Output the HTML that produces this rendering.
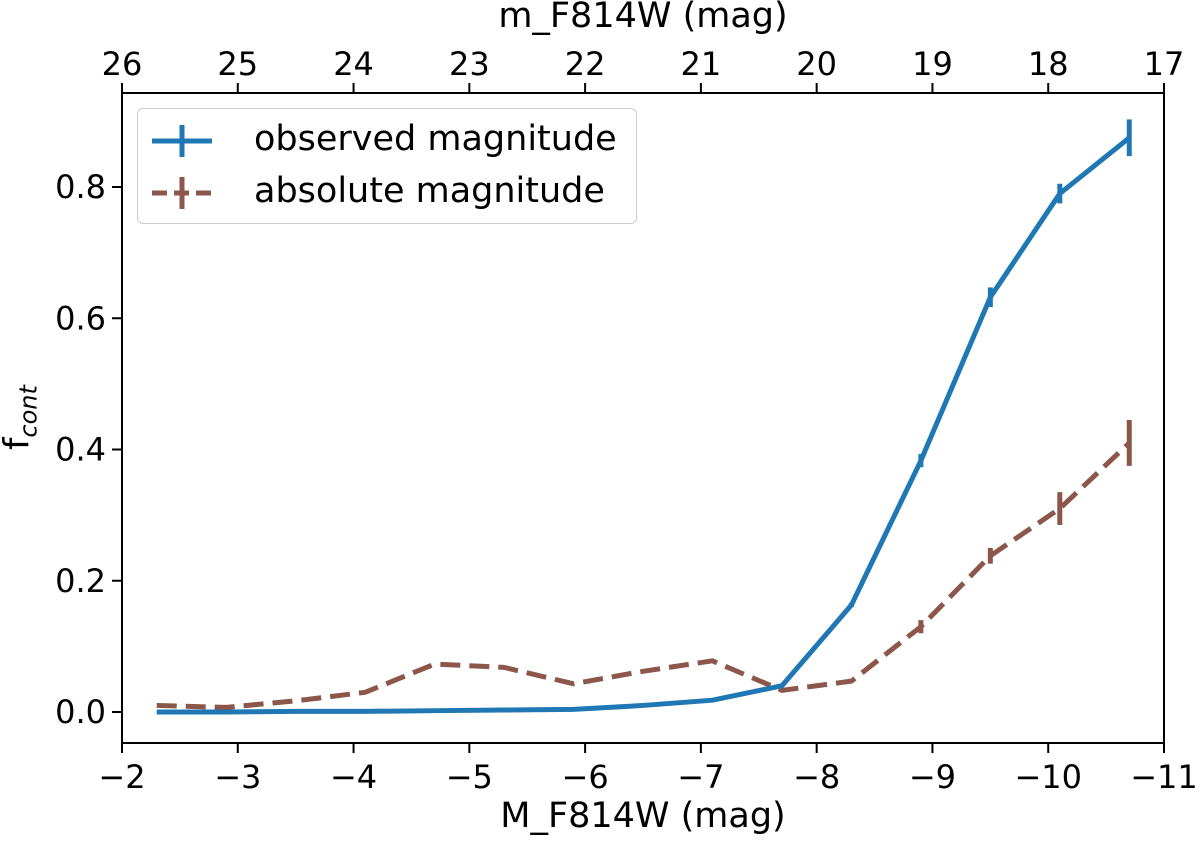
<!DOCTYPE html>
<html><head><meta charset="utf-8"><style>
body{margin:0;background:#fff;}
svg{display:block;font-family:"DejaVu Sans","Liberation Sans",sans-serif;}
</style></head><body>
<svg id="chart" width="1200" height="841"></svg>
<script>
const xCats=[-2.3,-2.9,-3.5,-4.1,-4.7,-5.3,-5.9,-6.5,-7.1,-7.7,-8.3,-8.9,-9.5,-10.1,-10.7];
const observed=[0,0,0.001,0.001,0.002,0.003,0.004,0.01,0.018,0.04,0.163,0.383,0.632,0.79,0.875];
const observedErr=[0,0,0,0,0,0,0,0,0,0,0.003,0.01,0.015,0.015,0.028];
const absolute=[0.01,0.007,0.017,0.03,0.073,0.068,0.043,0.062,0.078,0.033,0.047,0.13,0.238,0.31,0.41];
const absoluteErr=[0,0,0,0,0,0,0,0,0,0,0,0.01,0.012,0.025,0.035];
const xTicks=[-2,-3,-4,-5,-6,-7,-8,-9,-10,-11];
const yTicks=[0,0.2,0.4,0.6,0.8];
const topTicks=[26,25,24,23,22,21,20,19,18,17];
const L=122,R=1164,T=93,B=743;
const X=v=>L+(v-(-2))/(-11-(-2))*(R-L);
const Y=v=>712-v*656.25;
const XT=v=>L+(26-v)/9*(R-L);
const svg=document.getElementById('chart');
const NS='http://www.w3.org/2000/svg';
function mk(tag,attrs,parent){const e=document.createElementNS(NS,tag);for(const k in attrs)e.setAttribute(k,attrs[k]);(parent||svg).appendChild(e);return e;}
function txt(s,attrs){const e=mk('text',attrs);e.textContent=s;return e;}
function series(vals,errs,color,dash,name){
  const g=mk('g',{});
  
  
  const p=mk('polyline',{points:xCats.map((x,i)=>X(x)+','+Y(vals[i])).join(' '),fill:'none',stroke:color,'stroke-width':5,'stroke-dasharray':dash,'stroke-linejoin':'round'},g);
  
  
  xCats.forEach((x,i)=>{const e=mk('line',{x1:X(x),x2:X(x),y1:Y(vals[i]-errs[i]),y2:Y(vals[i]+errs[i]),stroke:color,'stroke-width':5},g);
    
    });
}
series(absolute,absoluteErr,'#8c564b','20 9','absolute-series');
series(observed,observedErr,'#1f77b4','none','observed-series');
const fr=mk('rect',{x:L,y:T,width:R-L,height:B-T,fill:'none',stroke:'#000','stroke-width':2});


xTicks.forEach(v=>{mk('line',{x1:X(v),x2:X(v),y1:B,y2:B+10,stroke:'#000','stroke-width':2});
  const t=txt(v===0?'0':'\u2212'+Math.abs(v),{x:X(v),y:B+45,'font-size':32,'text-anchor':'middle'});
  
  });
topTicks.forEach(v=>{mk('line',{x1:XT(v),x2:XT(v),y1:T,y2:T-10,stroke:'#000','stroke-width':2});
  const t=txt(String(v),{x:XT(v),y:T-18,'font-size':32,'text-anchor':'middle'});
  
  });
yTicks.forEach(v=>{mk('line',{x1:L,x2:L-10,y1:Y(v),y2:Y(v),stroke:'#000','stroke-width':2});
  const t=txt(v.toFixed(1),{x:L-16,y:Y(v)+11,'font-size':32,'text-anchor':'end'});
  
  });
</script>
<div style="position:absolute;left:0;top:0;width:1200px;height:841px;pointer-events:none;font-family:'DejaVu Sans','Liberation Sans',sans-serif;">
<div style="position:absolute;left:0;width:1286px;top:796px;text-align:center;font-size:35px;">M_F814W (mag)</div>
<div style="position:absolute;left:0;width:1286px;top:-4px;text-align:center;font-size:35px;">m_F814W (mag)</div>
<div style="position:absolute;left:-30px;top:395px;width:100px;text-align:center;font-size:35px;transform:rotate(-90deg);">f<sub style="font-size:24px;font-style:italic;">cont</sub></div>
<div style="position:absolute;left:137px;top:108px;width:498px;height:114px;border:1.5px solid #ccc;border-radius:6px;background:rgba(255,255,255,0.8);">
 <div style="position:absolute;left:14px;top:12px;font-size:35px;">
  <svg width="60" height="40" style="position:absolute;left:0;top:0"><line x1="0" y1="20" x2="60" y2="20" stroke="#1f77b4" stroke-width="5"/><line x1="30" y1="4" x2="30" y2="36" stroke="#1f77b4" stroke-width="5"/></svg>
  <span style="position:absolute;left:102px;top:-2px;white-space:nowrap;">observed magnitude</span></div>
 <div style="position:absolute;left:14px;top:64px;font-size:35px;">
  <svg width="60" height="40" style="position:absolute;left:0;top:0"><line x1="0" y1="20" x2="60" y2="20" stroke="#8c564b" stroke-width="5" stroke-dasharray="15 7"/><line x1="30" y1="4" x2="30" y2="36" stroke="#8c564b" stroke-width="5"/></svg>
  <span style="position:absolute;left:102px;top:-2px;white-space:nowrap;">absolute magnitude</span></div>
</div>
</div>
</body></html>
